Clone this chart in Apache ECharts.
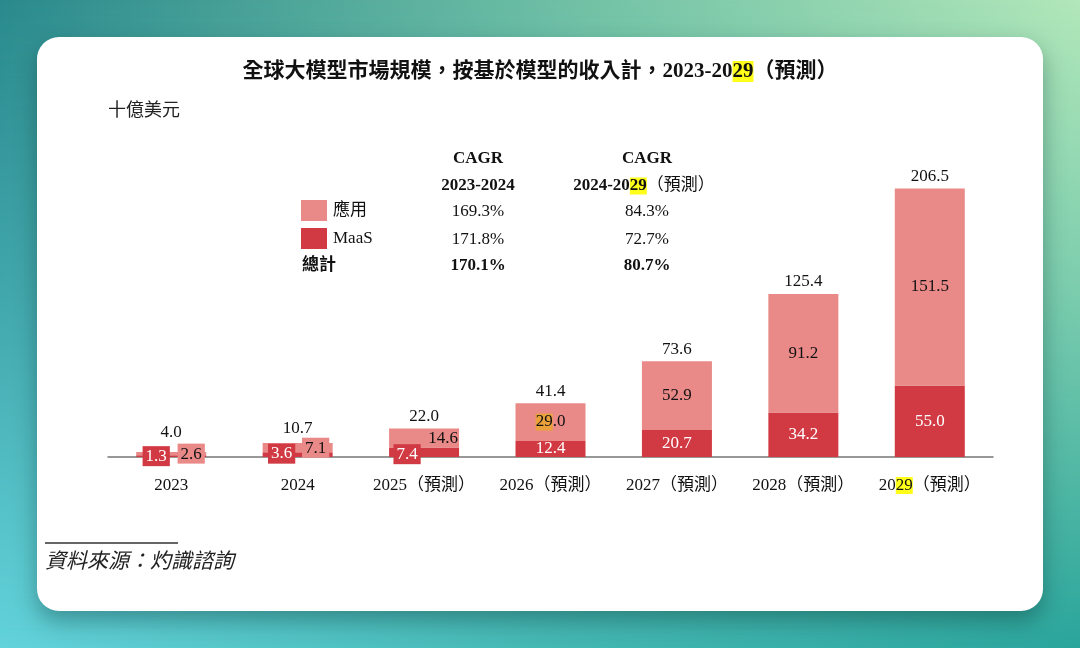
<!DOCTYPE html>
<html lang="zh-Hant">
<head>
  <meta charset="utf-8">
  <style>
    html, body { margin: 0; height: 100%; overflow: hidden; }
    #bg-bottom {
      position: absolute; left: 0; top: 0; width: 1080px; height: 648px;
      background: linear-gradient(to right, #63d3db 0%, #45b8b4 50%, #2aa59c 100%);
    }
    #bg-top {
      position: absolute; left: 0; top: 0; width: 1080px; height: 648px;
      background: linear-gradient(to right, #2a898c 0%, #73c2a6 55%, #b2e7b9 100%);
      -webkit-mask-image: linear-gradient(to bottom, #000 0%, rgba(0,0,0,0.6) 45%, transparent 100%);
      mask-image: linear-gradient(to bottom, #000 0%, rgba(0,0,0,0.6) 45%, transparent 100%);
    }
    #card {
      position: absolute; left: 37px; top: 37px; width: 1006px; height: 574px;
      background: #fff; border-radius: 22px;
      box-shadow: 0 10px 22px rgba(0, 40, 40, 0.35);
    }
    #container { position: absolute; left: 0; top: 0; width: 1080px; height: 648px; }
  </style>
</head>
<body>
  <div id="bg-bottom"></div>
  <div id="bg-top"></div>
  <div id="card"></div>
  <div id="container"></div>
  <script src="https://cdn.jsdelivr.net/npm/echarts@6/dist/echarts.min.js"></script>
  <script>
    // 數據（十億美元）
    const years = ['2023', '2024', '2025（預測）', '2026（預測）', '2027（預測）', '2028（預測）', '2029（預測）'];
    const maas = [1.3, 3.6, 7.4, 12.4, 20.7, 34.2, 55.0];
    const yingyong = [2.6, 7.1, 14.6, 29.0, 52.9, 91.2, 151.5];
    const totals = [4.0, 10.7, 22.0, 41.4, 73.6, 125.4, 206.5];

    // CAGR 表
    const cagrRows = ['應用', 'MaaS', '總計'];
    const cagr2324 = ['169.3%', '171.8%', '170.1%'];
    const cagr2429 = ['84.3%', '72.7%', '80.7%'];

    const RED = '#d13a43';
    const PINK = '#e98a88';
    const INK = '#111';
    const SERIF = "'Liberation Serif', 'Noto Sans CJK TC', serif";
    const CJK = "'Noto Sans CJK TC', 'Liberation Serif', sans-serif";
    const HL = '#ffff1a';

    var dom = document.getElementById('container');
    var myChart = echarts.init(dom, null, { renderer: 'canvas' });

    // small bars: labels pushed aside with a coloured box
    const maasTweaks = {
      0: { backgroundColor: RED, padding: [2, 3, 1, 3], offset: [-15, 0] },
      1: { backgroundColor: RED, padding: [2, 3, 1, 3], offset: [-16, -1] },
      2: { backgroundColor: RED, padding: [2, 3, 1, 3], offset: [-17, 2] }
    };
    const appTweaks = {
      0: { backgroundColor: PINK, padding: [2, 3, 1, 3], offset: [20, 0] },
      1: { backgroundColor: PINK, padding: [2, 3, 1, 3], offset: [18, 0] },
      2: { offset: [19, 1] },
      3: { formatter: '{hl|29}.0' }
    };
    const totalTweaks = {
      0: { distance: 10 },
      1: { distance: 6 }
    };

    function withLabels(values, tweaks) {
      return values.map(function (v, i) {
        return tweaks[i] ? { value: v, label: tweaks[i] } : v;
      });
    }

    function fmt1(p) { return Number(p.value).toFixed(1); }

    function tableText(x, y, text, bold, align) {
      return {
        type: 'text', x: x, y: y,
        style: {
          text: text, fill: INK, font: (bold ? 'bold ' : '') + '17px ' + SERIF,
          align: align || 'center', verticalAlign: 'middle',
          rich: {
            hl: { backgroundColor: HL, fontWeight: 'bold', fontSize: 17, fontFamily: SERIF, fill: INK },
            n: { fontWeight: 'normal', fontSize: 17, fontFamily: SERIF, fill: INK }
          }
        }
      };
    }

    const graphics = [
      {
        type: 'text', left: 108, top: 100,
        style: { text: '十億美元', fill: '#222', font: '18px ' + CJK }
      },
      tableText(478, 159, 'CAGR', true),
      tableText(478, 186, '2023-2024', true),
      tableText(647, 159, 'CAGR', true),
      tableText(644, 186, '2024-20{hl|29}{n|（預測）}', true),
      tableText(302, 266, cagrRows[2], true, 'left'),
      {
        type: 'line',
        shape: { x1: 45, y1: 543, x2: 178, y2: 543 },
        style: { stroke: '#333', lineWidth: 1.5 }
      },
      {
        type: 'text', left: 45, top: 550,
        style: { text: '資料來源：灼識諮詢', fill: '#222', font: 'italic 21px ' + CJK }
      }
    ];
    for (let i = 0; i < 3; i++) {
      const y = [212, 240, 266][i];
      graphics.push(tableText(478, y, cagr2324[i], i === 2));
      graphics.push(tableText(647, y, cagr2429[i], i === 2));
    }

    var option = {
      backgroundColor: 'transparent',
      animation: false,
      title: {
        text: '全球大模型市場規模，按基於模型的收入計，2023-20{hl|29}（預測）',
        left: 'center',
        top: 56,
        textStyle: {
          fontSize: 21, fontWeight: 'bold', color: INK, fontFamily: SERIF,
          rich: {
            hl: { backgroundColor: HL, fontSize: 21, fontWeight: 'bold', color: INK, fontFamily: SERIF }
          }
        }
      },
      legend: {
        data: ['應用', 'MaaS'],
        orient: 'vertical',
        left: 301,
        top: 200,
        padding: 0,
        icon: 'rect',
        itemWidth: 26,
        itemHeight: 21,
        itemGap: 7,
        textStyle: { fontSize: 17, color: INK, fontFamily: SERIF, padding: [0, 0, 0, 1] },
        selectedMode: false
      },
      grid: { left: 108, right: 87, top: 171, bottom: 191 },
      xAxis: {
        type: 'category',
        data: years,
        boundaryGap: true,
        axisLine: { lineStyle: { color: '#777', width: 1.5 } },
        axisTick: { show: false },
        axisLabel: {
          interval: 0,
          margin: 20,
          fontSize: 17,
          color: INK,
          fontFamily: SERIF,
          formatter: function (v) {
            return v.indexOf('2029') === 0 ? '20{hl|29}' + v.slice(4) : v;
          },
          rich: { hl: { backgroundColor: HL, fontSize: 17, color: INK, fontFamily: SERIF } }
        }
      },
      yAxis: { type: 'value', min: 0, max: 220, show: false, splitLine: { show: false } },
      series: [
        {
          name: 'MaaS',
          type: 'bar',
          stack: 'total',
          barWidth: 70,
          itemStyle: { color: RED },
          label: {
            show: true, position: 'inside', color: '#fff', fontSize: 17, fontFamily: SERIF,
            formatter: fmt1
          },
          data: withLabels(maas, maasTweaks)
        },
        {
          name: '應用',
          type: 'bar',
          stack: 'total',
          barWidth: 70,
          itemStyle: { color: PINK },
          label: {
            show: true, position: 'inside', color: INK, fontSize: 17, fontFamily: SERIF,
            formatter: fmt1,
            rich: { hl: { backgroundColor: '#eba23c', color: INK, fontSize: 17, fontFamily: SERIF } }
          },
          data: withLabels(yingyong, appTweaks)
        },
        {
          name: '總計',
          type: 'scatter',
          symbolSize: 1,
          itemStyle: { color: 'rgba(0,0,0,0)', opacity: 1 },
          silent: true,
          z: 5,
          label: {
            show: true, position: 'top', distance: 3, color: INK, fontSize: 17, fontFamily: SERIF,
            formatter: fmt1
          },
          data: withLabels(totals, totalTweaks)
        }
      ],
      graphic: graphics
    };

    myChart.setOption(option);
    window.addEventListener('resize', myChart.resize);
  </script>
</body>
</html>
